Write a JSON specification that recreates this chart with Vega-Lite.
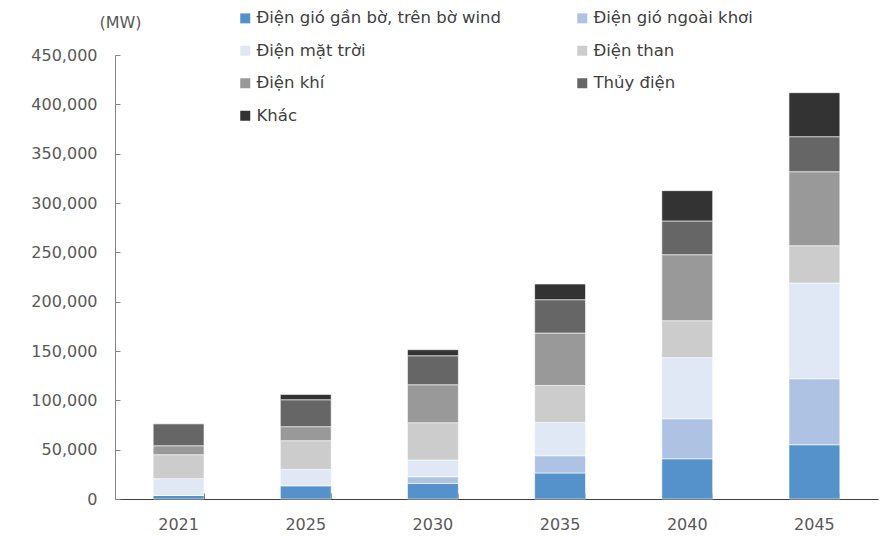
{
  "$schema": "https://vega.github.io/schema/vega-lite/v6.json",
  "width": 763,
  "height": 444,
  "autosize": {"type": "none"},
  "padding": {"left": 115, "top": 55, "right": 18, "bottom": 39},
  "background": "white",
  "config": {"view": {"stroke": null}, "font": "DejaVu Sans"},
  "data": {"values": [
    {"year": "2021", "type": "Điện gió gần bờ, trên bờ wind", "mw": 3600},
    {"year": "2021", "type": "Điện gió ngoài khơi", "mw": 0},
    {"year": "2021", "type": "Điện mặt trời", "mw": 17000},
    {"year": "2021", "type": "Điện than", "mw": 24300},
    {"year": "2021", "type": "Điện khí", "mw": 9100},
    {"year": "2021", "type": "Thủy điện", "mw": 22300},
    {"year": "2021", "type": "Khác", "mw": 300},
    {"year": "2025", "type": "Điện gió gần bờ, trên bờ wind", "mw": 13500},
    {"year": "2025", "type": "Điện gió ngoài khơi", "mw": 0},
    {"year": "2025", "type": "Điện mặt trời", "mw": 16500},
    {"year": "2025", "type": "Điện than", "mw": 29100},
    {"year": "2025", "type": "Điện khí", "mw": 14200},
    {"year": "2025", "type": "Thủy điện", "mw": 27300},
    {"year": "2025", "type": "Khác", "mw": 5400},
    {"year": "2030", "type": "Điện gió gần bờ, trên bờ wind", "mw": 15800},
    {"year": "2030", "type": "Điện gió ngoài khơi", "mw": 6800},
    {"year": "2030", "type": "Điện mặt trời", "mw": 16900},
    {"year": "2030", "type": "Điện than", "mw": 37800},
    {"year": "2030", "type": "Điện khí", "mw": 38500},
    {"year": "2030", "type": "Thủy điện", "mw": 29400},
    {"year": "2030", "type": "Khác", "mw": 6100},
    {"year": "2035", "type": "Điện gió gần bờ, trên bờ wind", "mw": 26400},
    {"year": "2035", "type": "Điện gió ngoài khơi", "mw": 17500},
    {"year": "2035", "type": "Điện mặt trời", "mw": 33700},
    {"year": "2035", "type": "Điện than", "mw": 37500},
    {"year": "2035", "type": "Điện khí", "mw": 53100},
    {"year": "2035", "type": "Thủy điện", "mw": 33800},
    {"year": "2035", "type": "Khác", "mw": 15900},
    {"year": "2040", "type": "Điện gió gần bờ, trên bờ wind", "mw": 40800},
    {"year": "2040", "type": "Điện gió ngoài khơi", "mw": 40600},
    {"year": "2040", "type": "Điện mặt trời", "mw": 61800},
    {"year": "2040", "type": "Điện than", "mw": 37500},
    {"year": "2040", "type": "Điện khí", "mw": 66900},
    {"year": "2040", "type": "Thủy điện", "mw": 34200},
    {"year": "2040", "type": "Khác", "mw": 30700},
    {"year": "2045", "type": "Điện gió gần bờ, trên bờ wind", "mw": 55000},
    {"year": "2045", "type": "Điện gió ngoài khơi", "mw": 66900},
    {"year": "2045", "type": "Điện mặt trời", "mw": 97000},
    {"year": "2045", "type": "Điện than", "mw": 37800},
    {"year": "2045", "type": "Điện khí", "mw": 75000},
    {"year": "2045", "type": "Thủy điện", "mw": 35500},
    {"year": "2045", "type": "Khác", "mw": 44600}
  ]},
  "transform": [
    {"calculate": "indexof(['Điện gió gần bờ, trên bờ wind', 'Điện gió ngoài khơi', 'Điện mặt trời', 'Điện than', 'Điện khí', 'Thủy điện', 'Khác'], datum.type)", "as": "stackOrder"}
  ],
  "mark": {"type": "bar", "stroke": "white", "strokeWidth": 0.6},
  "encoding": {
    "x": {
      "field": "year", "type": "ordinal",
      "scale": {"paddingInner": 0.6, "paddingOuter": 0.3},
      "axis": {
        "title": null, "labelAngle": 0, "labelFontSize": 16, "labelColor": "#595959",
        "labelPadding": 23, "domainColor": "#404040", "tickColor": "#404040",
        "tickSize": -6, "bandPosition": 1
      }
    },
    "y": {
      "field": "mw", "type": "quantitative", "stack": "zero",
      "scale": {"domain": [0, 450000], "nice": false},
      "axis": {
        "values": [0, 50000, 100000, 150000, 200000, 250000, 300000, 350000, 400000, 450000],
        "format": ",d", "grid": false, "labelFontSize": 16, "labelColor": "#595959",
        "labelPadding": 23, "tickSize": -5, "domainColor": "#868686", "tickColor": "#868686",
        "title": "(MW)", "titleAngle": 0, "titleFontWeight": "normal", "titleFontSize": 16,
        "titleColor": "#595959", "titleX": 5, "titleY": -33, "titleAlign": "center", "titleBaseline": "middle"
      }
    },
    "order": {"field": "stackOrder", "type": "quantitative", "sort": "ascending"},
    "color": {
      "field": "type", "type": "nominal",
      "scale": {
        "domain": ["Điện gió gần bờ, trên bờ wind", "Điện mặt trời", "Điện khí", "Khác", "Điện gió ngoài khơi", "Điện than", "Thủy điện"],
        "range": ["#5592CB", "#E0E7F5", "#999999", "#333333", "#AEC3E4", "#CCCCCC", "#666666"]
      },
      "legend": {
        "title": null, "orient": "none", "legendX": 122, "legendY": -45,
        "columns": 2, "columnPadding": 72, "rowPadding": 15.5,
        "symbolType": "square", "symbolSize": 100, "symbolStrokeWidth": 0,
        "labelFontSize": 16.5, "labelColor": "#404040", "labelLimit": 400, "labelOffset": 3
      }
    }
  }
}
